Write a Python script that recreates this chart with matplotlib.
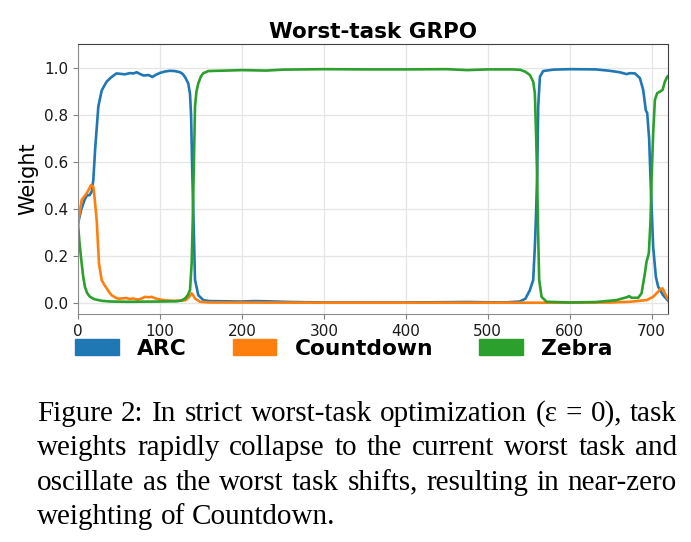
"""
Task weights under strict worst-task GRPO, with the figure caption below.
"""

import matplotlib

matplotlib.use("Agg")

import matplotlib.pyplot as plt
from matplotlib.patches import Patch

# ---- data ------------------------------------------------------------------

arc_steps = [
    0, 4, 8, 11, 14, 16.7, 18.7, 21, 24.8, 28.9, 32, 35, 40, 47, 52, 57, 63,
    68, 71.6, 76, 80, 86, 90.7, 95, 100, 106, 112, 118, 124.5, 128, 131,
    134.6, 136.7, 138, 139.5, 141, 142.8, 146.8, 153, 160, 200, 215, 230,
    260, 300, 400, 475, 520, 539, 546, 551.5, 555.5, 557.5, 558.7, 560.4,
    561.6, 563.7, 567.7, 580, 600, 632, 649, 661, 669.5, 673.5, 679.6, 685.7,
    689.7, 691.8, 693, 694.6, 697, 698.7, 701.9, 705.2, 708, 714, 720,
]
arc_weights = [
    0.34, 0.40, 0.44, 0.46, 0.46, 0.475, 0.525, 0.66, 0.837, 0.905, 0.925,
    0.943, 0.96, 0.978, 0.976, 0.974, 0.979, 0.978, 0.983, 0.975, 0.969,
    0.971, 0.963, 0.972, 0.980, 0.986, 0.989, 0.988, 0.983, 0.975, 0.96,
    0.935, 0.89, 0.80, 0.55, 0.35, 0.10, 0.035, 0.014, 0.010, 0.008, 0.010,
    0.009, 0.006, 0.004, 0.004, 0.006, 0.004, 0.008, 0.02, 0.057, 0.10, 0.24,
    0.35, 0.55, 0.837, 0.964, 0.988, 0.994, 0.996, 0.995, 0.989, 0.983,
    0.975, 0.979, 0.978, 0.958, 0.908, 0.852, 0.82, 0.81, 0.70, 0.525, 0.24,
    0.113, 0.071, 0.035, 0.012,
]

countdown_steps = [
    0, 4.5, 10.6, 14, 15.9, 18.7, 20.5, 22.8, 25.6, 28.9, 32, 35, 38, 41, 45,
    49, 53, 59, 63, 67, 73, 77, 81.7, 86, 90, 94, 98, 106, 118, 130.6, 135,
    138.7, 140.5, 142.8, 148.8, 160, 300, 500, 600, 650, 673.5, 693.8, 701.9,
    708, 711, 713.4, 716.2, 719.4, 720,
]
countdown_weights = [
    0.34, 0.44, 0.468, 0.49, 0.503, 0.496, 0.44, 0.354, 0.17, 0.099, 0.08,
    0.064, 0.048, 0.035, 0.026, 0.02, 0.021, 0.023, 0.019, 0.021, 0.016,
    0.02, 0.028, 0.026, 0.028, 0.022, 0.018, 0.013, 0.011, 0.013, 0.025,
    0.043, 0.035, 0.021, 0.007, 0.004, 0.003, 0.003, 0.003, 0.004, 0.007,
    0.014, 0.028, 0.05, 0.062, 0.064, 0.043, 0.021, 0.018,
]

zebra_steps = [
    0, 2, 4.5, 6.5, 8.5, 11, 14.6, 20, 29, 40, 60, 100, 120, 126, 130.6, 134,
    136.7, 138.7, 140, 141, 142.8, 144.5, 146.8, 150, 153, 159, 180, 200,
    230, 250, 300, 350, 400, 450, 475, 500, 530, 540, 546, 551.5, 555.5,
    557.5, 559, 560.4, 561.5, 562.8, 565.7, 571.8, 600, 632.7, 657, 669.4,
    672.6, 675.5, 683.6, 687.7, 691.8, 693.8, 696.6, 698.7, 699.9, 701.9,
    704, 706.8, 710, 713.4, 716.2, 719, 720,
]
zebra_weights = [
    0.34, 0.25, 0.17, 0.11, 0.07, 0.045, 0.028, 0.018, 0.011, 0.008, 0.007,
    0.008, 0.009, 0.012, 0.021, 0.035, 0.057, 0.17, 0.35, 0.52, 0.837, 0.9,
    0.936, 0.965, 0.979, 0.988, 0.99, 0.992, 0.99, 0.994, 0.996, 0.995,
    0.995, 0.996, 0.992, 0.995, 0.995, 0.993, 0.985, 0.971, 0.943, 0.894,
    0.72, 0.525, 0.3, 0.1, 0.028, 0.007, 0.004, 0.006, 0.014, 0.026, 0.031,
    0.024, 0.024, 0.043, 0.128, 0.177, 0.213, 0.354, 0.525, 0.723, 0.865,
    0.894, 0.9, 0.908, 0.943, 0.964, 0.966,
]

task_names = ["ARC", "Countdown", "Zebra"]
task_colors = ["#1f77b4", "#ff7f0e", "#2ca02c"]

x_ticks = [0, 100, 200, 300, 400, 500, 600, 700]
y_ticks = [0.0, 0.2, 0.4, 0.6, 0.8, 1.0]

caption_lines = [
    "Figure 2: In strict worst-task optimization (ε = 0), task",
    "weights rapidly collapse to the current worst task and",
    "oscillate as the worst task shifts, resulting in near-zero",
    "weighting of Countdown.",
]

# ---- figure ----------------------------------------------------------------

FIG_W, FIG_H = 691, 542

fig = plt.figure(figsize=(FIG_W / 100, FIG_H / 100), dpi=100)
ax = fig.add_axes([78 / FIG_W, 1 - 314 / FIG_H, 590 / FIG_W, 270 / FIG_H])

series = [
    (arc_steps, arc_weights),
    (countdown_steps, countdown_weights),
    (zebra_steps, zebra_weights),
]
for (steps, weights), color in zip(series, task_colors):
    ax.plot(steps, weights, color=color, linewidth=1.9)

ax.set_xlim(0, 720)
ax.set_ylim(-0.045, 1.103)
ax.set_xticks(x_ticks)
ax.set_yticks(y_ticks)
ax.set_yticklabels([f"{v:.1f}" for v in y_ticks])
ax.tick_params(labelsize=11, length=3.5, color="0.5", labelcolor="0.1")
ax.grid(True, color="0.9", linewidth=0.9)
ax.set_axisbelow(True)

for side in ["left", "bottom"]:
    ax.spines[side].set_color("0.55")
for side in ["top", "right"]:
    ax.spines[side].set_color("0.25")

ax.set_ylabel("Weight", fontsize=15, labelpad=4)
ax.set_title("Worst-task GRPO", fontsize=15.5, fontweight="bold", pad=4)

handles = [Patch(facecolor=c, edgecolor=c) for c in task_colors]
fig.legend(
    handles,
    task_names,
    loc="center",
    bbox_to_anchor=(344 / FIG_W, 1 - 349 / FIG_H),
    ncol=3,
    frameon=False,
    prop={"size": 15.7, "weight": "bold"},
    handlelength=2.0,
    handleheight=0.75,
    handletextpad=0.85,
    columnspacing=2.1,
)

# ---- caption, set as justified lines ---------------------------------------

renderer = fig.canvas.get_renderer()
left_px, right_px = 37, 677
baselines_px = [421, 455, 490, 524]
caption_font = {"family": "Liberation Serif", "size": 21, "color": "black"}

for i, (line, base) in enumerate(zip(caption_lines, baselines_px)):
    words = line.split(" ")
    y = 1 - base / FIG_H
    texts = [fig.text(0, y, w, va="baseline", ha="left", **caption_font) for w in words]
    widths = [t.get_window_extent(renderer).width for t in texts]
    last_line = i == len(caption_lines) - 1
    if last_line or len(words) == 1:
        space = texts[0].get_fontsize() * 0.25 * 100 / 72
    else:
        space = (right_px - left_px - sum(widths)) / (len(words) - 1)
    x = left_px
    for t, w in zip(texts, widths):
        t.set_x(x / FIG_W)
        x += w + space

fig.savefig("out.png", dpi=100)
plt.close(fig)
